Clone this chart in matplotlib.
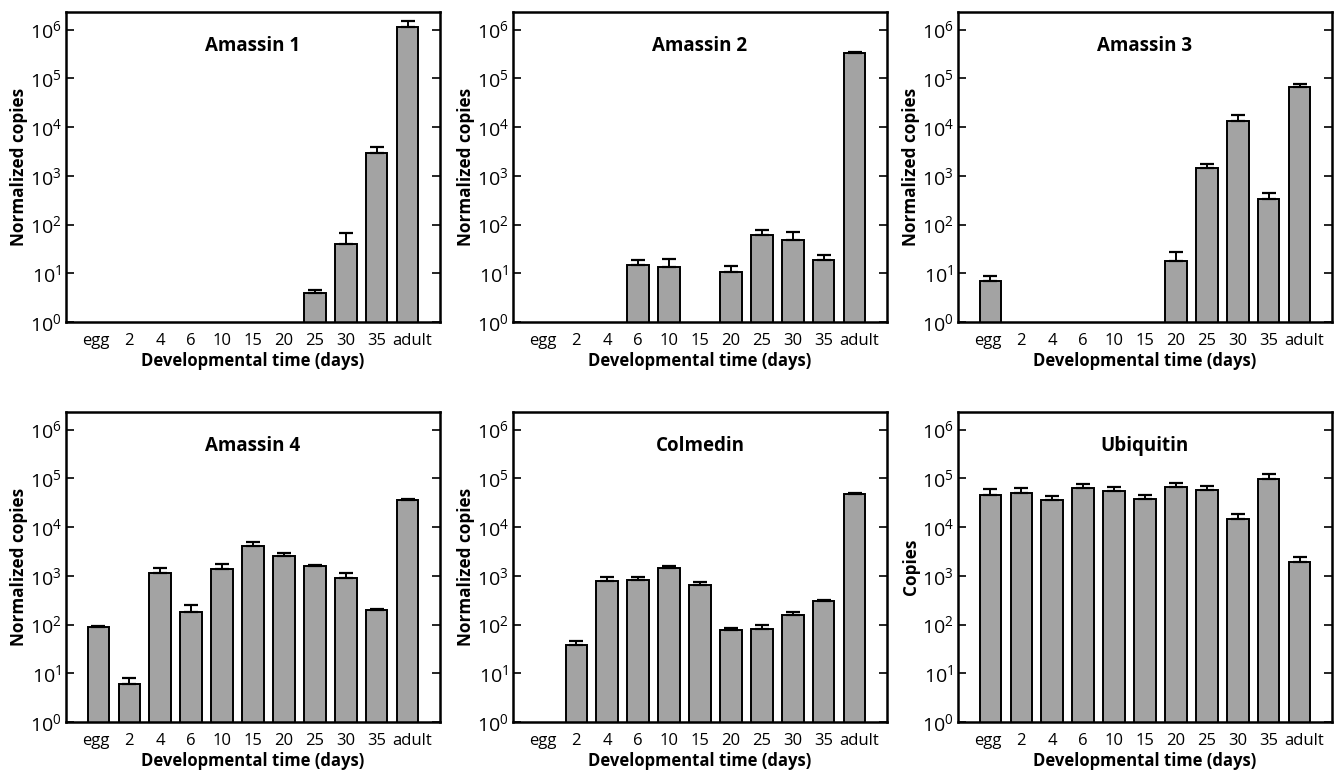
import numpy as np
import matplotlib
matplotlib.use("Agg")
import matplotlib.pyplot as plt
import matplotlib.transforms as mtransforms
from matplotlib.ticker import NullLocator

plt.rcParams['font.family'] = ['Open Sans', 'DejaVu Sans']
plt.rcParams['mathtext.fontset'] = 'custom'
plt.rcParams['mathtext.rm'] = 'Open Sans'

nan = np.nan

# ---------------------------------------
# DATA
# ---------------------------------------

stages = ["egg", "2", "4", "6", "10", "15", "20", "25", "30", "35", "adult"]

amassin1 = [nan, nan, nan, nan, nan, nan, nan, 3.9, 40, 2950, 1.12e6]
amassin1_top = [nan, nan, nan, nan, nan, nan, nan, 4.6, 66, 3900, 1.5e6]

amassin2 = [nan, nan, nan, 14.7, 13.3, nan, 10.4, 61, 48, 19, 3.35e5]
amassin2_top = [nan, nan, nan, 18.9, 19.8, nan, 14.2, 77, 69, 24, 3.5e5]

amassin3 = [6.9, nan, nan, nan, nan, nan, 17.7, 1430, 13600, 330, 66000]
amassin3_top = [8.6, nan, nan, nan, nan, nan, 27.6, 1740, 18000, 446, 78000]

amassin4 = [87, 6.1, 1160, 183, 1400, 4000, 2600, 1570, 890, 195, 36400]
amassin4_top = [94, 7.9, 1430, 248, 1750, 4900, 2950, 1700, 1160, 208, 37500]

colmedin = [nan, 38, 777, 828, 1440, 643, 79, 82, 157, 310, 47900]
colmedin_top = [nan, 47, 940, 940, 1560, 741, 85, 100, 184, 325, 51000]

ubiquitin = [46100, 50700, 36400, 63300, 54000, 38200, 65300, 56600, 14800, 96800, 1900]
ubiquitin_top = [60300, 62300, 44000, 77700, 65300, 46100, 80200, 68400, 19000, 120800, 2440]

panels = [
    ("Amassin 1", amassin1, amassin1_top, "Normalized copies"),
    ("Amassin 2", amassin2, amassin2_top, "Normalized copies"),
    ("Amassin 3", amassin3, amassin3_top, "Normalized copies"),
    ("Amassin 4", amassin4, amassin4_top, "Normalized copies"),
    ("Colmedin", colmedin, colmedin_top, "Normalized copies"),
    ("Ubiquitin", ubiquitin, ubiquitin_top, "Copies"),
]

# ---------------------------------------
# LAYOUT
# ---------------------------------------

W, H = 1338, 780
fig = plt.figure(figsize=(W / 100, H / 100), dpi=100)

lefts = [66, 513, 958]
tops = [12, 412]
ax_w, ax_h = 374, 310

x = np.arange(len(stages))

for i, (title, vals, tops_err, ylab) in enumerate(panels):
    row, col = divmod(i, 3)
    l = lefts[col]
    t = tops[row]
    ax = fig.add_axes([l / W, 1 - (t + ax_h) / H, ax_w / W, ax_h / H])

    vals = np.array(vals, dtype=float)
    up = np.array(tops_err, dtype=float) - vals
    lo = np.zeros_like(up)

    ax.bar(x, vals, width=0.7, color="#a3a3a3", edgecolor="black",
           linewidth=1.4, zorder=2)
    ax.errorbar(x, vals, yerr=[lo, up], fmt="none", ecolor="black",
                elinewidth=1.4, capsize=5, capthick=1.6, zorder=3)

    ax.set_yscale("log")
    ax.set_ylim(1, 2.3e6)
    ax.set_xlim(-1.05, 11.05)
    ax.set_yticks([10 ** k for k in range(7)])
    ax.yaxis.set_minor_locator(NullLocator())

    ax.set_xticks(x)
    ax.set_xticklabels(stages, fontsize=12)
    ax.tick_params(axis="x", length=0, pad=8)
    ax.tick_params(axis="y", which="major", direction="in", length=6,
                   width=1.2, left=True, right=True, labelsize=14, pad=3)

    # the outer labels sit a little off their bars in the original
    lbls = ax.get_xticklabels()
    lbls[-1].set_transform(lbls[-1].get_transform() +
                           mtransforms.ScaledTranslation(5 / 100, 0, fig.dpi_scale_trans))
    lbls[0].set_transform(lbls[0].get_transform() +
                          mtransforms.ScaledTranslation(-3 / 100, 0, fig.dpi_scale_trans))

    for sp in ax.spines.values():
        sp.set_linewidth(1.8)

    ax.set_ylabel(ylab, fontsize=12.3, fontweight="bold", labelpad=1)
    ax.set_xlabel("Developmental time (days)", fontsize=12,
                  fontweight="bold", labelpad=2)
    ax.text(0.5, 0.89, title, transform=ax.transAxes, ha="center",
            va="center", fontsize=13.5, fontweight="bold")

fig.savefig("out.png", dpi=100)
